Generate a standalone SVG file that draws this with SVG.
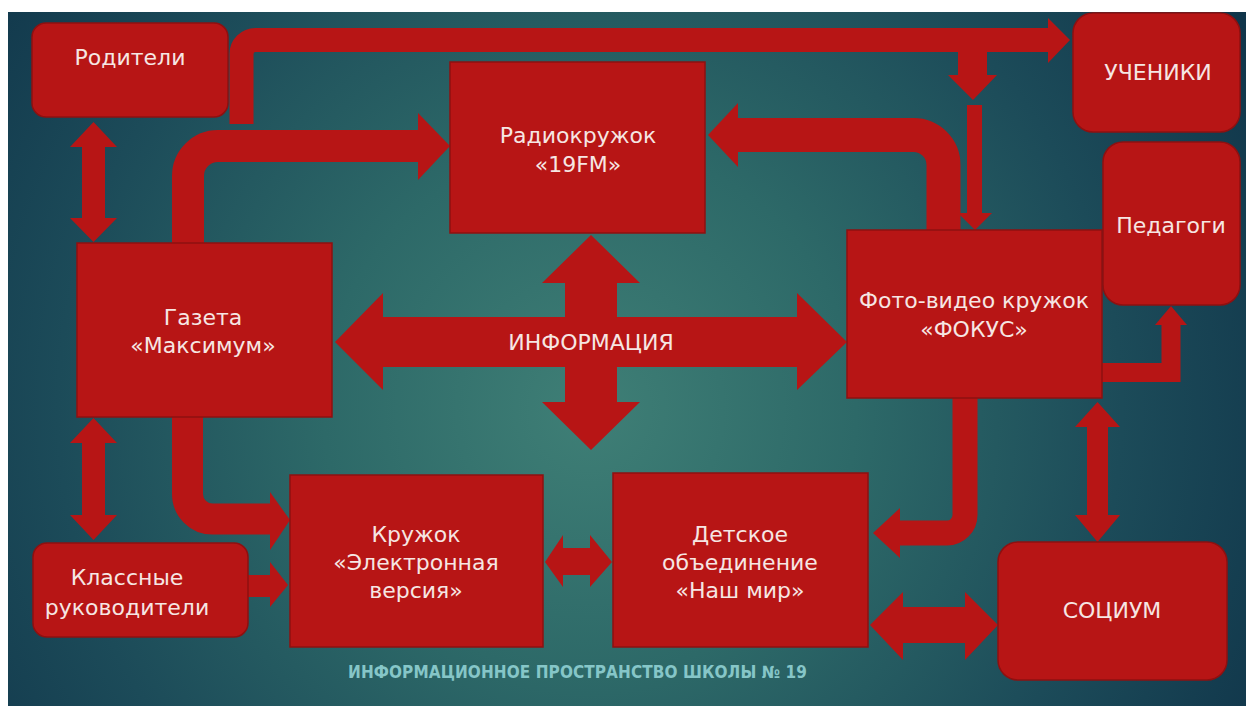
<svg xmlns="http://www.w3.org/2000/svg" width="1246" height="706" viewBox="0 0 1246 706">
<defs>
<radialGradient id="bg" gradientUnits="userSpaceOnUse" cx="590" cy="410" r="760">
<stop offset="0" stop-color="#3f7f76"/>
<stop offset="0.35" stop-color="#2d6968"/>
<stop offset="0.7" stop-color="#1c4b59"/>
<stop offset="1" stop-color="#10354a"/>
</radialGradient>
<style>
.n{fill:#b71515;stroke:#8e1010;stroke-width:1.5}
.t{font-family:"DejaVu Sans","Liberation Sans",sans-serif;font-size:22px;fill:#f6e6e3;text-anchor:middle}
.c{fill:#b71515}
.s{fill:none;stroke:#b71515}
.f{font-family:"DejaVu Sans Condensed","Liberation Sans Narrow","Liberation Sans",sans-serif;font-size:17px;font-weight:bold;fill:#86c6c8}
</style>
</defs>
<rect x="0" y="0" width="1246" height="706" fill="#ffffff"/>
<rect x="8" y="12" width="1238" height="694" fill="url(#bg)"/>

<g id="connectors">
<path class="s" d="M241.5,124 V54 A14,14 0 0 1 255.5,40 H1050" stroke-width="24"/>
<polygon class="c" points="1048,18 1070,40 1048,63"/>
<rect class="c" x="958" y="50" width="29" height="26"/>
<polygon class="c" points="948,75 997,75 973,100"/>
<rect class="c" x="967" y="105" width="15" height="109"/>
<polygon class="c" points="958,213 992,213 975,230"/>
<path class="s" d="M188,244 V176 A30,30 0 0 1 218,146 H420" stroke-width="32"/>
<polygon class="c" points="418,113 450,146 418,180"/>
<path class="s" d="M943.5,231 V165 A30,30 0 0 0 913.5,135 H736" stroke-width="34"/>
<polygon class="c" points="738,103 708,135 738,167"/>
<polygon class="c" points="335,342 383,293 383,317 797,317 797,293 847,342 797,390 797,367 383,367 383,390"/>
<polygon class="c" points="591,235 640,283 617,283 617,402 640,402 591,450 542,402 565,402 565,283 542,283"/>
<polygon class="c" points="93.5,122 117,147 105,147 105,218 117,218 93.5,242 70,218 82,218 82,147 70,147"/>
<polygon class="c" points="93.5,418 117,443 105,443 105,515 117,515 93.5,540 70,515 82,515 82,443 70,443"/>
<path class="s" d="M187.5,416 V494 A25,25 0 0 0 212.5,519 H272" stroke-width="31"/>
<polygon class="c" points="270,492 290,520 270,550"/>
<polygon class="c" points="247,575 270,575 270,562 288,585 270,607 270,597 247,597"/>
<polygon class="c" points="545,562 563,535 563,548 590,548 590,535 612,562 590,587 590,575 563,575 563,587"/>
<path class="s" d="M965,397 V515 A18,18 0 0 1 947,533 H898" stroke-width="25"/>
<polygon class="c" points="900,508 873,533 900,558"/>
<polygon class="c" points="1097.5,402 1120,427 1108,427 1108,515 1120,515 1097.5,542 1075,515 1087,515 1087,427 1075,427"/>
<polygon class="c" points="870,625 903,592 903,607 965,607 965,592 998,625 965,660 965,643 903,643 903,660"/>
<path class="s" d="M1101,372.5 H1171 V323" stroke-width="19"/>
<polygon class="c" points="1155,325 1171,306 1187,325"/>
</g>

<g id="roditeli">
<rect class="n" x="32" y="23" width="196" height="94" rx="14"/>
<text class="t" x="130" y="65">Родители</text>
</g>
<g id="ucheniki">
<rect class="n" x="1073" y="13" width="167" height="119" rx="20"/>
<text class="t" x="1158" y="80">УЧЕНИКИ</text>
</g>
<g id="radio">
<rect class="n" x="450" y="62" width="255" height="171"/>
<text class="t" x="578" y="143">Радиокружок</text>
<text class="t" x="578" y="172">«19FM»</text>
</g>
<g id="pedagogi">
<rect class="n" x="1103" y="142" width="137" height="163" rx="20"/>
<text class="t" x="1171" y="233">Педагоги</text>
</g>
<g id="gazeta">
<rect class="n" x="77" y="243" width="255" height="174"/>
<text class="t" x="203" y="325">Газета</text>
<text class="t" x="203" y="353">«Максимум»</text>
</g>
<g id="foto">
<rect class="n" x="847" y="230" width="255" height="168"/>
<text class="t" x="974" y="308">Фото-видео кружок</text>
<text class="t" x="974" y="337">«ФОКУС»</text>
</g>
<g id="info">
<text class="t" x="591" y="350">ИНФОРМАЦИЯ</text>
</g>
<g id="klassnye">
<rect class="n" x="33" y="543" width="215" height="94" rx="14"/>
<text class="t" x="127" y="585">Классные</text>
<text class="t" x="127" y="615">руководители</text>
</g>
<g id="kruzhok">
<rect class="n" x="290" y="475" width="253" height="172"/>
<text class="t" x="416" y="542">Кружок</text>
<text class="t" x="416" y="570">«Электронная</text>
<text class="t" x="416" y="598">версия»</text>
</g>
<g id="detskoe">
<rect class="n" x="613" y="473" width="255" height="174"/>
<text class="t" x="740" y="542">Детское</text>
<text class="t" x="740" y="570">объединение</text>
<text class="t" x="740" y="598">«Наш мир»</text>
</g>
<g id="socium">
<rect class="n" x="998" y="542" width="229" height="138" rx="20"/>
<text class="t" x="1112" y="618">СОЦИУМ</text>
</g>
<g id="footer">
<text class="f" x="348" y="678" textLength="459">ИНФОРМАЦИОННОЕ ПРОСТРАНСТВО ШКОЛЫ № 19</text>
</g>
</svg>
